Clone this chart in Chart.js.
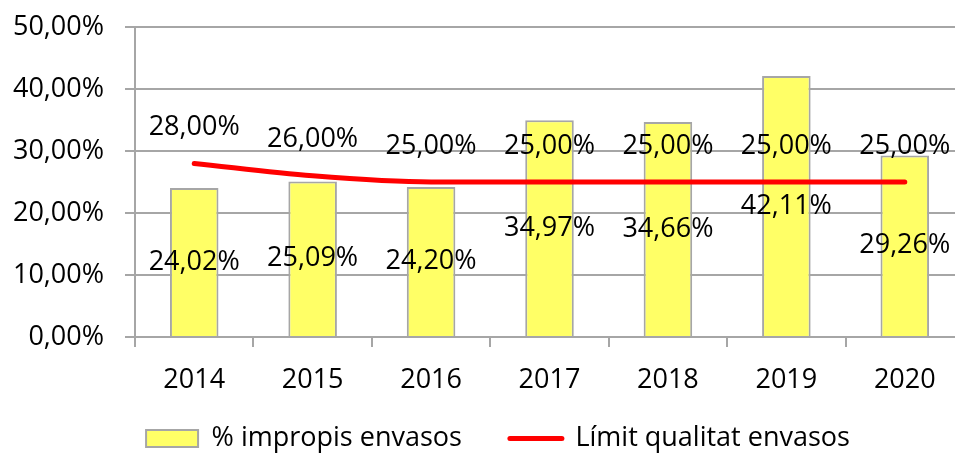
<!DOCTYPE html>
<html>
<head>
<meta charset="utf-8">
<script src="https://cdn.jsdelivr.net/npm/chart.js@4/dist/chart.umd.min.js"></script>
<style>
  html, body { margin: 0; padding: 0; background: #fff; overflow: hidden; }
  #wrap { width: 955px; height: 457px; overflow: hidden; }
</style>
</head>
<body>
<div id="wrap"><canvas id="myChart" width="964" height="457"></canvas></div>
<script>
// Data
const years = ['2014', '2015', '2016', '2017', '2018', '2019', '2020'];
const impropisValues = [24.02, 25.09, 24.20, 34.97, 34.66, 42.11, 29.26];
const limitValues = [28, 26, 25, 25, 25, 25, 25];
const seriesNames = ['% impropis envasos', 'Límit qualitat envasos'];

const FONT = { family: '"Open Sans", "Noto Sans", sans-serif', size: 27 };
const GRID = '#A6A6A6';

// Format as 24,02%
function pct(v) {
    return v.toFixed(2).replace('.', ',') + '%';
}

// Value labels: bars centred, line above the point
const valueLabels = {
    id: 'valueLabels',
    afterDatasetsDraw(chart) {
        const ctx = chart.ctx;
        ctx.save();
        ctx.font = FONT.size + 'px ' + FONT.family;
        ctx.fillStyle = '#000';
        ctx.textAlign = 'center';
        ctx.textBaseline = 'middle';
        chart.data.datasets.forEach((ds, i) => {
            const meta = chart.getDatasetMeta(i);
            meta.data.forEach((el, j) => {
                if (ds.type === 'bar') {
                    ctx.fillText(pct(ds.data[j]), el.x, (el.y + el.base) / 2);
                } else {
                    ctx.fillText(pct(ds.data[j]), el.x, el.y - 36);
                }
            });
        });
        ctx.restore();
    }
};

// Nudge the legend up and a bit to the right, like the original
const legendShift = {
    id: 'legendShift',
    afterLayout(chart) {
        const lg = chart.legend;
        lg.top -= 20;
        lg.height += 20;
        lg.left += 32;
        lg.width -= 32;
    }
};

const ctx = document.getElementById('myChart').getContext('2d');
new Chart(ctx, {
    data: {
        labels: years,
        datasets: [{
            type: 'bar',
            label: seriesNames[0],
            data: impropisValues,
            backgroundColor: '#FFFF66',
            borderColor: '#A6A6A6',
            borderWidth: 2,
            barPercentage: 0.41,
            categoryPercentage: 1,
            order: 1
        }, {
            type: 'line',
            label: seriesNames[1],
            data: limitValues,
            borderColor: '#FF0000',
            backgroundColor: '#FF0000',
            borderWidth: 5,
            borderCapStyle: 'round',
            cubicInterpolationMode: 'monotone',
            pointRadius: 0,
            fill: false,
            order: 0
        }]
    },
    options: {
        responsive: false,
        animation: false,
        devicePixelRatio: 1,
        layout: { padding: 0 },
        plugins: {
            tooltip: { enabled: false },
            legend: {
                position: 'bottom',
                maxHeight: 60,
                labels: {
                    font: FONT,
                    color: '#000',
                    usePointStyle: true,
                    pointStyleWidth: 52,
                    boxHeight: 17,
                    padding: 48,
                    generateLabels(chart) {
                        return chart.data.datasets.map((ds, i) => ({
                            text: ds.label,
                            datasetIndex: i,
                            fillStyle: ds.backgroundColor,
                            strokeStyle: ds.borderColor,
                            lineWidth: ds.type === 'bar' ? 2 : 5,
                            lineCap: 'round',
                            pointStyle: ds.type === 'bar' ? 'rect' : 'line',
                            fontColor: '#000',
                            hidden: false
                        }));
                    }
                }
            }
        },
        scales: {
            x: {
                offset: true,
                grid: {
                    display: true,
                    offset: true,
                    drawOnChartArea: false,
                    drawTicks: true,
                    tickLength: 10,
                    color: GRID,
                    lineWidth: 2
                },
                border: { color: GRID, width: 2 },
                ticks: { font: FONT, color: '#000', padding: 17, maxRotation: 0 },
                afterFit(scale) { scale.height = 60; }
            },
            y: {
                min: 0,
                max: 50,
                ticks: {
                    stepSize: 10,
                    font: FONT,
                    color: '#000',
                    padding: 21,
                    callback: v => pct(v)
                },
                grid: { color: GRID, lineWidth: 2, tickLength: 10 },
                border: { color: GRID, width: 2 },
                afterFit(scale) {
                    scale.width = 135;
                    scale.paddingTop = 27;
                }
            }
        }
    },
    plugins: [valueLabels, legendShift]
});
</script>
</body>
</html>
